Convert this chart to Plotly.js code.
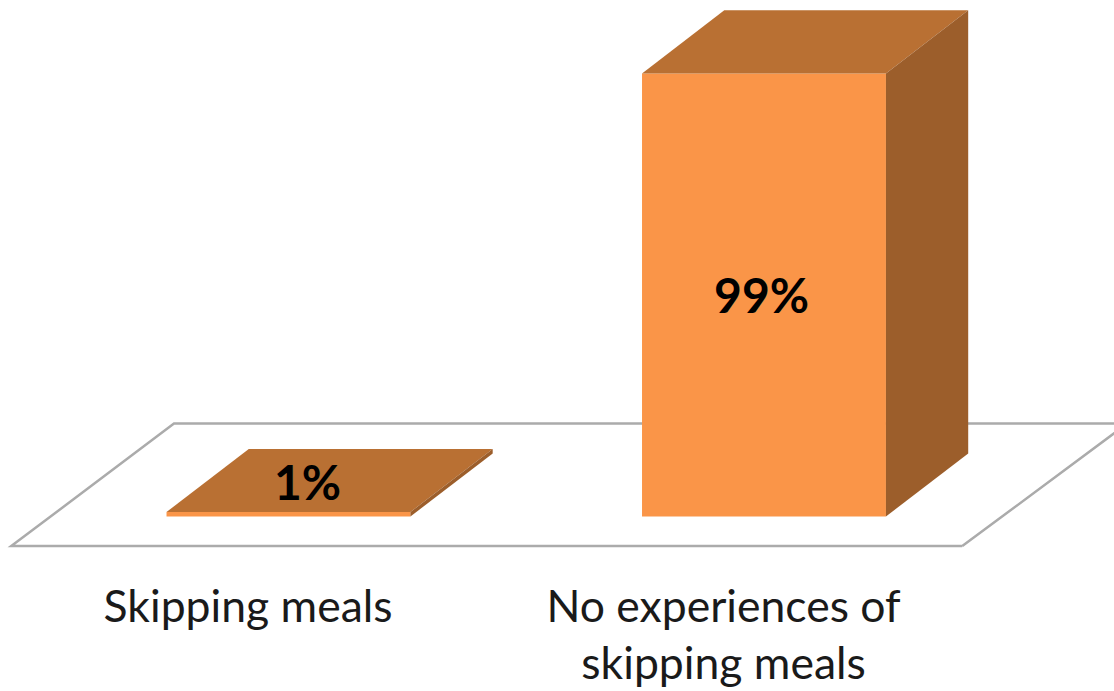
<!DOCTYPE html>
<html>
<head>
<meta charset="utf-8">
<script src="https://cdn.plot.ly/plotly-3.0.1.min.js"></script>
<style>html,body{margin:0;padding:0;background:#fff;overflow:hidden}#chart{width:1114px;height:691px}</style>
</head>
<body>
<div id="chart"></div>
<script>
// Survey shares
const categories = ["Skipping meals", "No experiences of<br>skipping meals"];
const shares = [1, 99];
const shareLabels = ["1%", "99%"];

// Oblique projection of the box depth, in axis units
const barWidth = 0.513;
const depthX = 0.173;
const depthY = 14.1;

// Floor plate extents, in axis units
const floorFrontY = -6.62;
const floorBackY = 20.75;
const floorFrontLeft = -0.583;
const floorFrontRight = 1.417;
const floorBackLeft = -0.2408;
const floorBackRight = 1.7636;

const frontColor = "#FA9548";
const topColor = "#B97033";
const sideColor = "#9C5E2B";

function face(xs, ys, color) {
  return {
    type: "scatter", mode: "lines", x: xs, y: ys, fill: "toself",
    fillcolor: color, line: {width: 0, color: color},
    hoverinfo: "skip", showlegend: false
  };
}

const positions = categories.map((_, i) => i);
const traces = [];

// Front faces: the two bars themselves
traces.push({
  type: "bar", x: positions, y: shares, width: barWidth,
  marker: {color: frontColor, line: {width: 0}},
  hoverinfo: "skip", showlegend: false
});

// Top and side faces follow each bar's value
positions.forEach((p, i) => {
  const l = p - barWidth / 2, r = p + barWidth / 2, v = shares[i];
  traces.push(face(
    [l, r, r + depthX, l + depthX, l],
    [v, v, v + depthY, v + depthY, v], topColor));
  traces.push(face(
    [r, r + depthX, r + depthX, r, r],
    [0, depthY, v + depthY, v, 0], sideColor));
});

// Value labels: on the flat top of the small bar, mid-face on the tall one
traces.push({
  type: "scatter", mode: "text",
  x: [positions[0] + 0.04, positions[1] - 0.005],
  y: [shares[0] + depthY / 2 - 1.7, shares[1] / 2 - 1.3],
  text: shareLabels, textposition: "middle center",
  textfont: {family: "Lato, sans-serif", size: 48, color: "#000", weight: 700},
  hoverinfo: "skip", showlegend: false
});

const layout = {
  width: 1114, height: 691,
  margin: {l: 0, r: 0, t: 0, b: 120},
  paper_bgcolor: "#fff", plot_bgcolor: "#fff",
  showlegend: false, hovermode: false,
  xaxis: {
    range: [-0.6067, 1.7361], fixedrange: true,
    tickmode: "array", tickvals: positions.map(p => p - 0.085), ticktext: categories,
    showgrid: false, zeroline: false, showline: false, ticks: "",
    ticklabelstandoff: 5,
    tickfont: {family: "Lato, sans-serif", size: 44.5, color: "#1a1a1a"}
  },
  yaxis: {
    range: [-12.18, 115.4], fixedrange: true, visible: false,
    showgrid: false, zeroline: false
  },
  shapes: [{
    type: "path", layer: "below", xref: "x", yref: "y",
    path: `M${floorFrontRight},${floorFrontY} L${floorFrontLeft},${floorFrontY} ` +
          `L${floorBackLeft},${floorBackY} L${floorBackRight},${floorBackY} ` +
          `M${floorFrontRight},${floorFrontY} L${floorBackRight},${floorBackY}`,
    line: {color: "#ABABAB", width: 2.5}
  }]
};

Plotly.newPlot("chart", traces, layout, {displayModeBar: false, staticPlot: true});
</script>
</body>
</html>
